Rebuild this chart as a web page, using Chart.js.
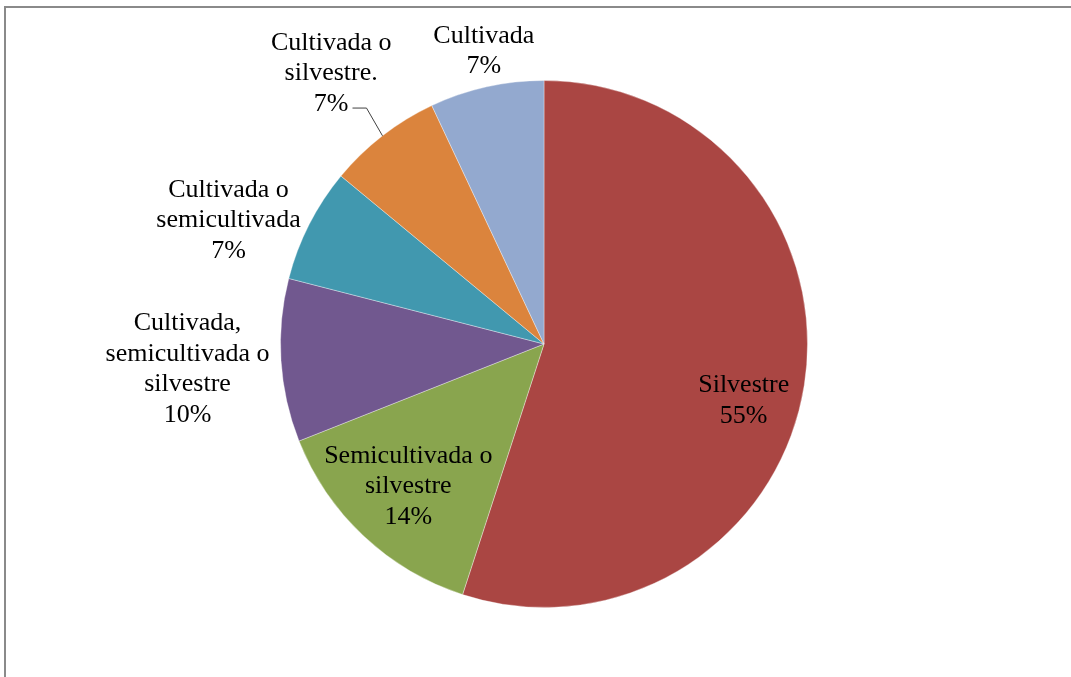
<!DOCTYPE html>
<html>
<head>
<meta charset="utf-8">
<title>Tipo de manejo</title>
<script src="https://cdn.jsdelivr.net/npm/chart.js@4.4.1/dist/chart.umd.min.js"></script>
<style>
  html, body { margin: 0; padding: 0; background: #ffffff; }
  canvas { display: block; }
</style>
</head>
<body>
<canvas id="pie" width="1071" height="677"></canvas>
<script>
// Categories, clockwise from twelve o'clock
const categories = [
  'Silvestre',
  'Semicultivada o silvestre',
  'Cultivada, semicultivada o silvestre',
  'Cultivada o semicultivada',
  'Cultivada o silvestre.',
  'Cultivada'
];

// Share of each category, in percent
const shares = [55, 14, 10, 7, 7, 7];

// How each category name wraps in its data label
const labelLines = [
  ['Silvestre'],
  ['Semicultivada o', 'silvestre'],
  ['Cultivada,', 'semicultivada o', 'silvestre'],
  ['Cultivada o', 'semicultivada'],
  ['Cultivada o', 'silvestre.'],
  ['Cultivada']
];

const sliceColors = ['#AA4643', '#89A54E', '#71588F', '#4198AF', '#DB843D', '#93A9CF'];

// Label placement: distance from the centre (in radii) and a small angular shift (degrees)
const labelDistance = [0.788, 0.747, 1.356, 1.286, 1.306, 1.135];
const labelAngleShift = [6.9, 0.4, -0.4, -5.6, -0.4, 1.0];
const leaderLine = [false, false, false, false, true, false];

const FONT = '26px "Liberation Serif", "Times New Roman", serif';
const LINE_H = 30.5;

// Grey frame along the top and left edges
const framePlugin = {
  id: 'frame',
  beforeDraw(chart) {
    const ctx = chart.ctx;
    ctx.save();
    ctx.strokeStyle = '#8a8a8a';
    ctx.lineWidth = 2;
    ctx.beginPath();
    ctx.moveTo(5, chart.height);
    ctx.lineTo(5, 7);
    ctx.lineTo(chart.width, 7);
    ctx.stroke();
    ctx.restore();
  }
};

// Category name + percentage drawn beside or inside each slice
const sliceLabelPlugin = {
  id: 'sliceLabels',
  afterDatasetsDraw(chart) {
    const ctx = chart.ctx;
    const meta = chart.getDatasetMeta(0);
    const total = shares.reduce((a, b) => a + b, 0);
    ctx.save();
    ctx.font = FONT;
    ctx.fillStyle = '#000000';
    ctx.textAlign = 'center';
    ctx.textBaseline = 'middle';
    meta.data.forEach((arc, i) => {
      const p = arc.getProps(['x', 'y', 'startAngle', 'endAngle', 'outerRadius'], true);
      const mid = (p.startAngle + p.endAngle) / 2;
      const a = mid + labelAngleShift[i] * Math.PI / 180;
      const r = p.outerRadius * labelDistance[i];
      const cx = p.x + r * Math.cos(a);
      const cy = p.y + r * Math.sin(a);
      const pct = Math.round(shares[i] / total * 100) + '%';
      const lines = labelLines[i].concat([pct]);
      const top = cy - (lines.length - 1) * LINE_H / 2;
      lines.forEach((t, k) => ctx.fillText(t, cx, top + k * LINE_H));

      if (leaderLine[i]) {
        const lastY = top + (lines.length - 1) * LINE_H;
        const w = ctx.measureText(pct).width;
        const x0 = cx + w / 2 + 4;
        const y0 = lastY + 4;
        const ex = p.x + p.outerRadius * Math.cos(mid);
        const ey = p.y + p.outerRadius * Math.sin(mid);
        ctx.strokeStyle = '#404040';
        ctx.lineWidth = 1;
        ctx.beginPath();
        ctx.moveTo(x0, y0);
        ctx.lineTo(x0 + 14, y0);
        ctx.lineTo(ex, ey);
        ctx.stroke();
      }
    });
    ctx.restore();
  }
};

new Chart(document.getElementById('pie'), {
  type: 'pie',
  data: {
    labels: categories,
    datasets: [{
      data: shares,
      backgroundColor: sliceColors,
      borderColor: 'rgba(255,255,255,0.35)',
      borderWidth: 1,
      hoverOffset: 0
    }]
  },
  options: {
    responsive: false,
    animation: false,
    events: [],
    layout: { padding: { left: 280, top: 80, right: 263, bottom: 69 } },
    plugins: {
      legend: { display: false },
      tooltip: { enabled: false }
    }
  },
  plugins: [framePlugin, sliceLabelPlugin]
});
</script>
</body>
</html>
